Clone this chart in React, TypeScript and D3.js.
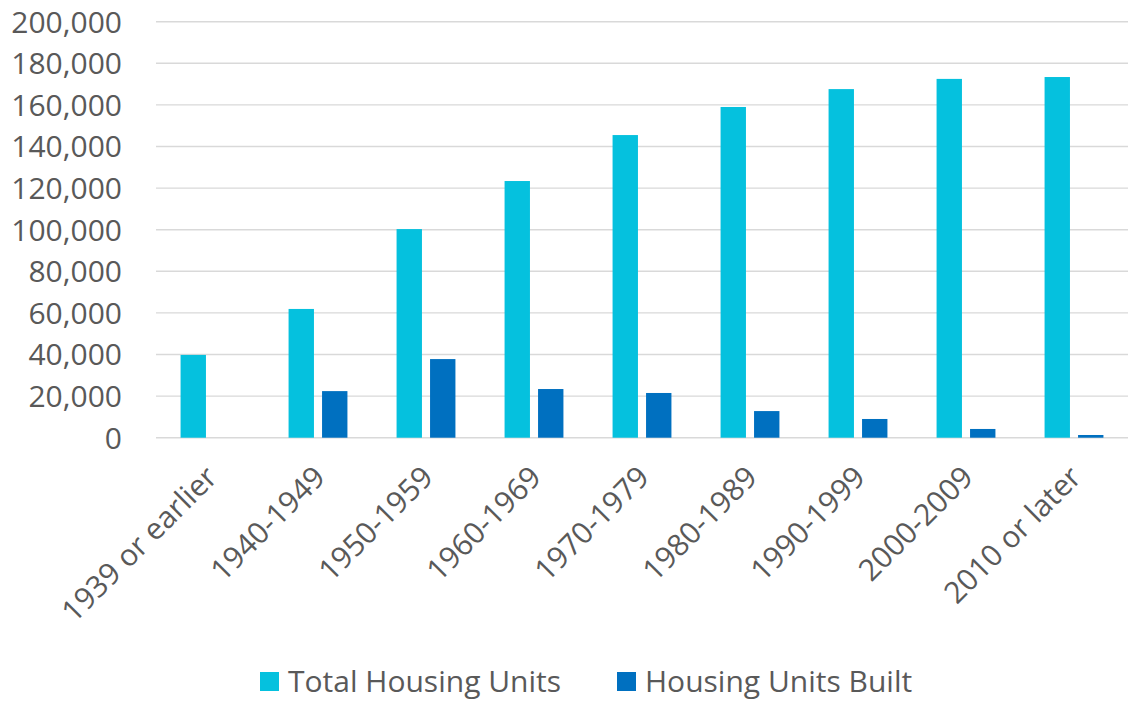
import React from "react";
import * as d3 from "d3";

const categories = [
  "1939 or earlier",
  "1940-1949",
  "1950-1959",
  "1960-1969",
  "1970-1979",
  "1980-1989",
  "1990-1999",
  "2000-2009",
  "2010 or later",
];
const totalUnits = [39800, 61900, 100300, 123400, 145500, 159000, 167600, 172500, 173400];
const unitsBuilt = [0, 22400, 37800, 23400, 21500, 12800, 9000, 4200, 1300];
const yTicks = [0, 20000, 40000, 60000, 80000, 100000, 120000, 140000, 160000, 180000, 200000];
const seriesNames = ["Total Housing Units", "Housing Units Built"];
const colors = ["#05C1DE", "#0070C0"];

const W = 1132;
const H = 701;
const left = 156;
const right = 1128;
const top = 21.7;
const bottom = 437.7;
const FONT = "'Open Sans', 'Noto Sans', sans-serif";
const TEXT = "#595959";
const FS = 30;

export default function App() {
  const x = d3.scaleBand<string>().domain(categories).range([left, right]).padding(0);
  const y = d3.scaleLinear().domain([0, 200000]).range([bottom, top]);
  const bw = x.bandwidth();
  const barW = bw * 0.235;
  const gap = bw * 0.075;
  const fmt = d3.format(",");

  return (
    <svg width={W} height={H} style={{ display: "block", position: "absolute", left: 0, top: 0 }} fontFamily={FONT}>
      <rect width={W} height={H} fill="#fff" />
      {yTicks.map((t) => (
        <g key={t}>
          <line x1={left} x2={right} y1={y(t)} y2={y(t)} stroke="#D9D9D9" strokeWidth={1.4} />
          <text x={122} y={y(t)} dy="0.36em" textAnchor="end" fontSize={FS} fill={TEXT}>
            {fmt(t)}
          </text>
        </g>
      ))}
      {categories.map((c, i) => {
        const cx = (x(c) as number) + bw / 2;
        const vals = [totalUnits[i], unitsBuilt[i]];
        return (
          <g key={c}>
            {vals.map((v, j) => {
              const bx = j === 0 ? cx - gap / 2 - barW : cx + gap / 2;
              return v > 0 ? (
                <rect key={j} x={bx} y={y(v)} width={barW} height={y(0) - y(v)} fill={colors[j]} />
              ) : null;
            })}
            <text
              transform={`translate(${cx + 9},${479}) rotate(-45)`}
              textAnchor="end"
              fontSize={FS}
              fill={TEXT}
            >
              {c}
            </text>
          </g>
        );
      })}
      {seriesNames.map((s, i) => {
        const lx = i === 0 ? 260 : 617;
        return (
          <g key={s}>
            <rect x={lx} y={672} width={19} height={19} fill={colors[i]} />
            <text x={lx + 28} y={692} fontSize={FS} fill={TEXT}>
              {s}
            </text>
          </g>
        );
      })}
    </svg>
  );
}
